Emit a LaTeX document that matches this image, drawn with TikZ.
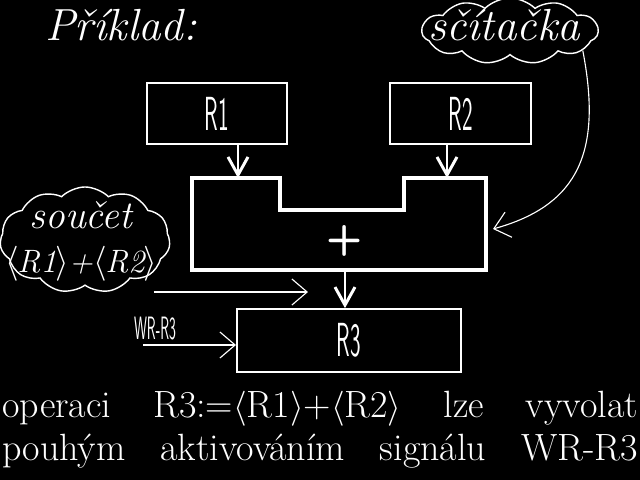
\documentclass[tikz,border=0pt]{standalone}
\usepackage{fontspec}
\usepackage{graphicx}
\usetikzlibrary{arrows.meta,shapes.symbols,calc}
\newcommand{\slim}[1]{\scalebox{0.47}[1]{#1}}

\begin{document}
\begin{tikzpicture}[
  x=0.025cm, y=-0.025cm,
  reg/.style={rectangle, draw=white, line width=1.4pt, minimum width=3.5cm, minimum height=1.52cm, inner sep=0pt, text=white,
    font=\sffamily\fontsize{34}{34}\selectfont},
  bubble/.style={cloud, draw=white, line width=1pt, cloud puffs=11, cloud puff arc=90, cloud ignores aspect, inner sep=0pt},
  bubtext/.style={text=white, font=\itshape\fontsize{32}{32}\selectfont, align=center, inner sep=0pt},
  bus/.style={-{Straight Barb[length=4.5mm, width=5mm]}, white, line width=2.1pt},
  wire/.style={-{Straight Barb[length=3.8mm, width=6.5mm]}, white, line width=0.8pt},
  note/.style={text=white, font=\fontsize{27}{27}\selectfont, anchor=base west, inner sep=0pt}
]
  \fill[black] (0,0) rectangle (640,480);
  \useasboundingbox (0,0) rectangle (640,480);

  \node[text=white, font=\itshape\fontsize{32}{32}\selectfont, anchor=base] (title) at (121,40) {Příklad:};

  \node[reg] (r1) at (217,113.5) {\slim{R1}};
  \node[reg] (r2) at (460.5,113.5) {\slim{R2}};
  \node[reg, minimum width=5.6cm, minimum height=1.57cm] (r3) at (349,340.5) {\slim{R3}};

  % adder
  \draw[white, line width=3pt, line join=miter] (192,178) -- (280,178) -- (280,210) -- (404,210) -- (404,178) -- (486,178) -- (486,270) -- (192,270) -- cycle;
  \node[text=white, font=\sffamily\bfseries\fontsize{30}{30}\selectfont] (plus) at (345,241) {+};
  \coordinate (in1) at (238,178);
  \coordinate (in2) at (447,178);
  \coordinate (sumout) at (345,270);

  \draw[bus] (r1.south -| in1) -- (in1);
  \draw[bus] (r2.south -| in2) -- (in2);
  \draw[bus] (sumout) -- (sumout |- r3.north);

  % clouds
  \node[bubble, minimum width=4.25cm, minimum height=2.65cm] (su) at (85,240) {};
  \node[bubtext, font=\itshape\fontsize{28}{31}\selectfont] (sutext) at (81,241)
    {součet\\ {\fontsize{23}{31}\selectfont$\langle$\kern-1ptR1\kern-1pt$\rangle$+$\langle$\kern-1ptR2\kern-1pt$\rangle$}};
  \node[bubble, minimum width=4.4cm, minimum height=1.65cm] (sc) at (510,31) {};
  \node[bubtext, anchor=base] (sctext) at (504,40) {sčítačka};

  \coordinate (addin) at (493,229);
  \coordinate (feed) at (308,292);
  \draw[wire] (sc.-15) .. controls (602,150) and (580,205) .. (addin);
  \draw[wire] (su.-25 |- feed) -- (feed);

  \node[text=white, font=\sffamily\fontsize{23}{23}\selectfont, inner sep=0pt] (wr) at (155,329) {\scalebox{0.45}[1]{WR-R3}};
  \coordinate (wrin) at (143,345);
  \draw[wire] (wrin) -- (wrin -| r3.west);

  \node[note] (line1) at (2,417) {\makebox[452pt][s]{operaci R3:=$\langle$R1$\rangle$+$\langle$R2$\rangle$ lze vyvolat}};
  \node[note] (line2) at (2,460) {\makebox[452pt][s]{pouhým aktivováním signálu WR-R3}};
\end{tikzpicture}
\end{document}
